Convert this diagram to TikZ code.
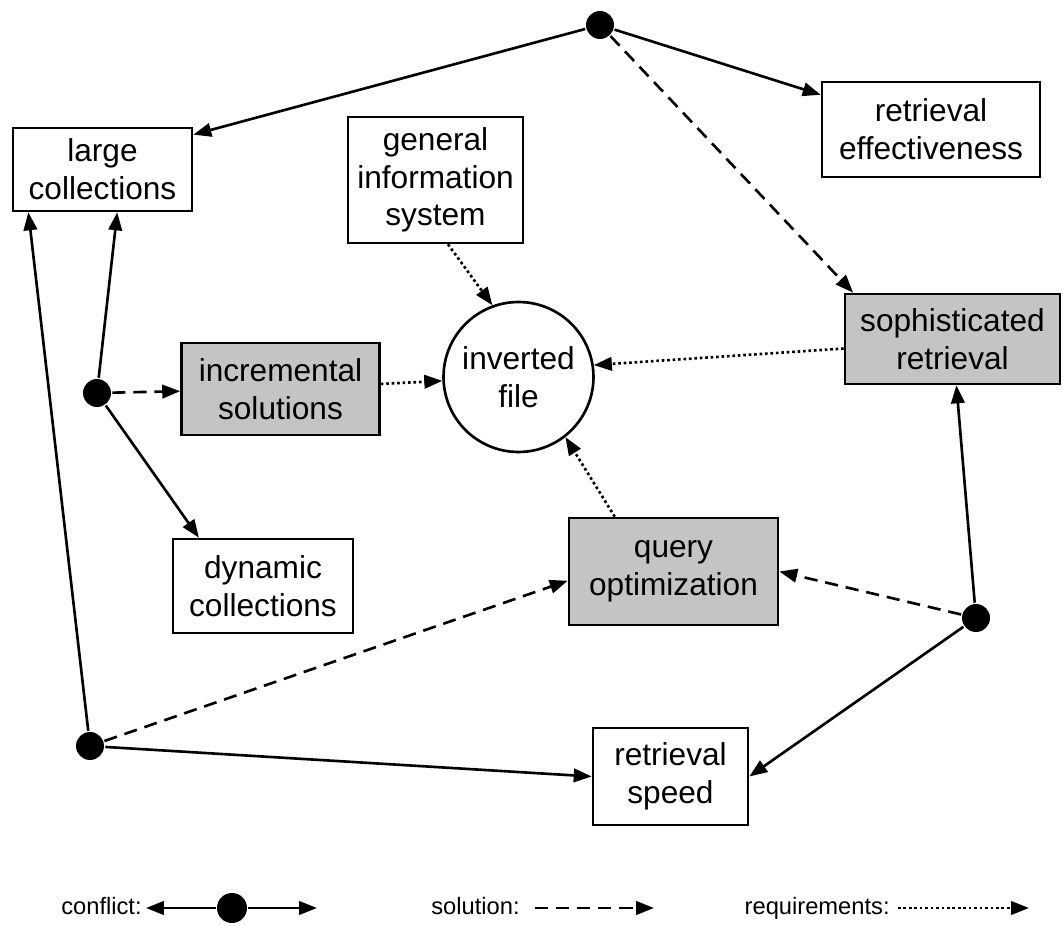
\documentclass[tikz,border=0pt]{standalone}
\usepackage{fontspec}
\setmainfont{Liberation Sans}
\usetikzlibrary{arrows.meta}
\definecolor{boxgrey}{RGB}{196,196,196}

\begin{document}
\begin{tikzpicture}[
       x=0.02cm, y=-0.02cm,
       line width=1.5pt,
       >={Triangle[length=0.36cm,width=0.27cm]},
       box/.style={
         draw,
         rectangle,
         align=center,
         inner sep=2pt,
         font=\fontsize{18}{21.5}\selectfont
       },
       greybox/.style={
         box,
         fill=boxgrey
       },
       conflict/.style={
         circle,
         fill=black,
         inner sep=0pt,
         minimum size=0.56cm
       },
       solution/.style={->, dash pattern=on 7.5pt off 4.5pt},
       requirement/.style={->, dash pattern=on 1.5pt off 1.6pt},
       legend/.style={inner ysep=1pt, text height=1.6ex, text depth=0.3ex,
         font=\fontsize{13.5}{16}\selectfont}
     ]

       \useasboundingbox (0,0) rectangle (1063,926);

       \node (large) at (102.5,169.5) [box, minimum width=3.58cm, minimum height=1.66cm]{large\\collections};
       \node (gis) at (435.5,180) [box, minimum width=3.5cm, minimum height=2.52cm]{general\\information\\system};
       \node (eff) at (931,129.5) [box, minimum width=4.36cm, minimum height=1.9cm]{retrieval\\effectiveness};
       \node (soph) at (952.5,339) [greybox, minimum width=4.3cm, minimum height=1.8cm]{sophisticated\\retrieval};
       \node (inv) at (518.5,377) [box, circle, minimum size=3cm]{inverted\\file};
       \node (incr) at (280.5,389) [greybox, minimum width=3.96cm, minimum height=1.84cm]{incremental\\solutions};
       \node (dyn) at (263,586) [box, minimum width=3.6cm, minimum height=1.88cm]{dynamic\\collections};
       \node (query) at (673.5,571.5) [greybox, minimum width=4.18cm, minimum height=2.14cm]{query\\optimization};
       \node (speed) at (670.5,776.5) [box, minimum width=3.1cm, minimum height=1.94cm]{retrieval\\speed};

       \node (c1) at (600,25) [conflict]{};
       \node (c2) at (97,393) [conflict]{};
       \node (c3) at (90,746) [conflict]{};
       \node (c4) at (976,618) [conflict]{};

       % conflicts
       \draw[->] (c1) -- (large.21);
       \draw[->] (c1) -- (eff);
       \draw[solution] (c1) -- (soph.155);

       \draw[->] (c2) -- (large.-71);
       \draw[->] (c2) -- (dyn.143);
       \draw[solution] (c2) -- (incr);

       \draw[->] (c3) -- (large.-150);
       \draw[->] (c3) -- (speed.west);
       \draw[solution] (c3) -- (query.185);

       \draw[->] (c4) -- (soph);
       \draw[->] (c4) -- (speed.east);
       \draw[solution] (c4) -- (query.east);

       % requirements
       \draw[requirement] (gis.-79) -- (inv.110);
       \draw[requirement] (incr) -- (inv);
       \draw[requirement] (soph.185) -- (inv.9);
       \draw[requirement] (query.137) -- (inv.-52);

       % legend
       \node (conflictlbl) at (146,908) [legend, inner xsep=0.06cm, anchor=east]{conflict:};
       \node (legdot) at (232,908) [conflict, minimum size=0.6cm]{};
       \coordinate (legr) at (317,908);
       \draw[->] (legdot) -- (conflictlbl);
       \draw[->] (legdot) -- (legr);

       \node (solutionlbl) at (535,908) [legend, inner xsep=0.28cm, anchor=east]{solution:};
       \coordinate (sole) at (654,908);
       \draw[solution] (solutionlbl) -- (sole);

       \node (reqlbl) at (898,908) [legend, inner xsep=0.14cm, anchor=east]{requirements:};
       \coordinate (reqe) at (1029,908);
       \draw[requirement] (reqlbl) -- (reqe);

\end{tikzpicture}
\end{document}
